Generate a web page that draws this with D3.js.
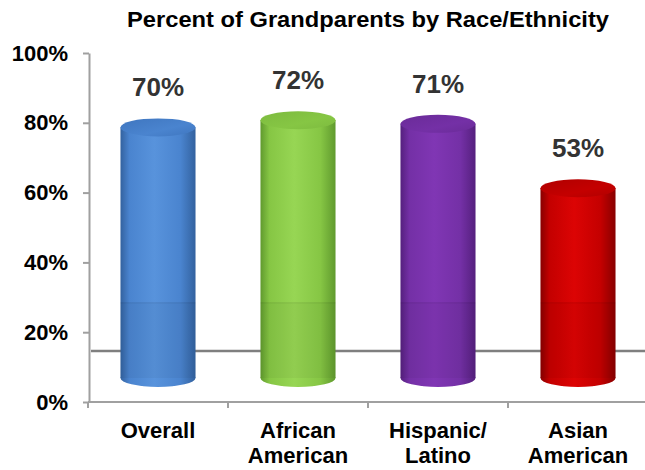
<!DOCTYPE html>
<html>
<head>
<meta charset="utf-8">
<script src="https://cdn.jsdelivr.net/npm/d3@7"></script>
<style>
  html, body { margin: 0; padding: 0; background: #fff; }
  svg { display: block; font-family: "Liberation Sans", Arial, sans-serif; }
</style>
</head>
<body>
<svg id="chart" width="645" height="470"></svg>
<script>
// ---- data ----
const categories = ["Overall", "African American", "Hispanic/ Latino", "Asian American"];
const categoryLines = [["Overall"], ["African", "American"], ["Hispanic/", "Latino"], ["Asian", "American"]];
const values = [70, 72, 71, 53];
const valueLabels = ["70%", "72%", "71%", "53%"];
const yTicks = [0, 20, 40, 60, 80, 100];
const title = "Percent of Grandparents by Race/Ethnicity";
const floorValue = 14.6;   // gray floor line of the 3D chart (axis units)
const seamValue = 21;      // shading seam on cylinders (cylinder units)

// palette: [edge, mid, highlight, top]
const palette = [
  ["#33629f", "#4a84cf", "#5893dc", "#3f76bf"],
  ["#609a2e", "#86c644", "#97d654", "#7dbb3f"],
  ["#55207e", "#7430a6", "#8036b4", "#6a2b98"],
  ["#880000", "#c40000", "#dc0404", "#b00000"]
];

const svg = d3.select("#chart");
const defs = svg.append("defs");

// ---- scales ----
const xAxisScale = d3.scaleBand().domain(categories).range([88, 648]).padding(0);
const x = d3.scaleBand().domain(categories).range([88, 648]).paddingInner(0.464).paddingOuter(0.232);
const y = d3.scaleLinear().domain([0, 100]).range([402, 53]);
const yCyl = d3.scaleLinear().domain([0, 100]).range([378, 20]);

// ---- title ----
svg.append("text")
  .attr("x", 368).attr("y", 27)
  .attr("text-anchor", "middle")
  .attr("font-weight", "bold").attr("font-size", 22)
  .attr("textLength", 482).attr("lengthAdjust", "spacingAndGlyphs")
  .attr("fill", "#000")
  .text(title);

// ---- y axis ----
const yAxis = d3.axisLeft(y).tickValues(yTicks).tickFormat(d => d + "%").tickSize(6).tickSizeOuter(0).tickPadding(15);
const gy = svg.append("g").attr("transform", "translate(89,0)").call(yAxis);
gy.select(".domain").attr("stroke", "#a0a0a0").attr("stroke-width", 2);
gy.selectAll(".tick line").attr("stroke", "#a0a0a0").attr("stroke-width", 2);
gy.selectAll(".tick text")
  .attr("font-family", "Liberation Sans, Arial, sans-serif")
  .attr("font-weight", "bold").attr("font-size", 22).attr("fill", "#000");

// ---- x axis (ticks at band boundaries) ----
const gx = svg.append("g");
gx.append("line")
  .attr("x1", xAxisScale.range()[0]).attr("x2", xAxisScale.range()[1])
  .attr("y1", y(0)).attr("y2", y(0))
  .attr("stroke", "#a0a0a0").attr("stroke-width", 2);
gx.selectAll("line.tick")
  .data(categories)
  .join("line").attr("class", "tick")
  .attr("x1", d => xAxisScale(d)).attr("x2", d => xAxisScale(d))
  .attr("y1", y(0)).attr("y2", y(0) + 6)
  .attr("stroke", "#a0a0a0").attr("stroke-width", 2);

const labels = gx.selectAll("text.cat")
  .data(categories)
  .join("text").attr("class", "cat")
  .attr("text-anchor", "middle")
  .attr("font-weight", "bold").attr("font-size", 22).attr("fill", "#000")
  .attr("transform", d => `translate(${xAxisScale(d) + xAxisScale.bandwidth() / 2},438)`);
labels.selectAll("tspan")
  .data((d, i) => categoryLines[i])
  .join("tspan")
  .attr("x", 0).attr("dy", (d, i) => i === 0 ? 0 : 25)
  .text(d => d);

// ---- floor line ----
svg.append("line")
  .attr("x1", 91).attr("x2", 645)
  .attr("y1", y(floorValue)).attr("y2", y(floorValue))
  .attr("stroke", "#7f7f7f").attr("stroke-width", 2.5);

// ---- cylinders ----
palette.forEach((p, i) => {
  const g = defs.append("linearGradient").attr("id", "side" + i)
    .attr("x1", "0%").attr("x2", "100%").attr("y1", "0%").attr("y2", "0%");
  [[0, p[0]], [0.12, p[1]], [0.45, p[2]], [0.8, p[1]], [1, p[0]]].forEach(s =>
    g.append("stop").attr("offset", s[0]).attr("stop-color", s[1]));
  const t = defs.append("linearGradient").attr("id", "top" + i)
    .attr("x1", "0%").attr("x2", "100%").attr("y1", "0%").attr("y2", "100%");
  [[0, p[3]], [0.6, p[1]], [1, p[3]]].forEach(s =>
    t.append("stop").attr("offset", s[0]).attr("stop-color", s[1]));
});

const ry = 9;
const cyl = svg.selectAll("g.cyl")
  .data(categories)
  .join("g").attr("class", "cyl");

cyl.append("ellipse")
  .attr("cx", d => x(d) + x.bandwidth() / 2)
  .attr("cy", yCyl(0))
  .attr("rx", x.bandwidth() / 2).attr("ry", ry)
  .attr("fill", (d, i) => `url(#side${i})`);
cyl.append("rect")
  .attr("x", d => x(d))
  .attr("width", x.bandwidth())
  .attr("y", (d, i) => yCyl(values[i]))
  .attr("height", (d, i) => yCyl(0) - yCyl(values[i]))
  .attr("fill", (d, i) => `url(#side${i})`);
// seam / lower shading
cyl.append("rect")
  .attr("x", d => x(d))
  .attr("width", x.bandwidth())
  .attr("y", yCyl(seamValue))
  .attr("height", yCyl(0) - yCyl(seamValue))
  .attr("fill", "#000").attr("opacity", 0.04);
cyl.append("line")
  .attr("x1", d => x(d)).attr("x2", d => x(d) + x.bandwidth())
  .attr("y1", yCyl(seamValue)).attr("y2", yCyl(seamValue))
  .attr("stroke", "#000").attr("stroke-opacity", 0.1).attr("stroke-width", 1);
cyl.append("ellipse")
  .attr("cx", d => x(d) + x.bandwidth() / 2)
  .attr("cy", (d, i) => yCyl(values[i]))
  .attr("rx", x.bandwidth() / 2).attr("ry", ry)
  .attr("fill", (d, i) => `url(#top${i})`);

// ---- value labels ----
svg.selectAll("text.val")
  .data(categories)
  .join("text").attr("class", "val")
  .attr("x", d => x(d) + x.bandwidth() / 2)
  .attr("y", (d, i) => yCyl(values[i]) - 31)
  .attr("text-anchor", "middle")
  .attr("font-weight", "bold").attr("font-size", 26).attr("fill", "#333")
  .text((d, i) => valueLabels[i]);
</script>
</body>
</html>
